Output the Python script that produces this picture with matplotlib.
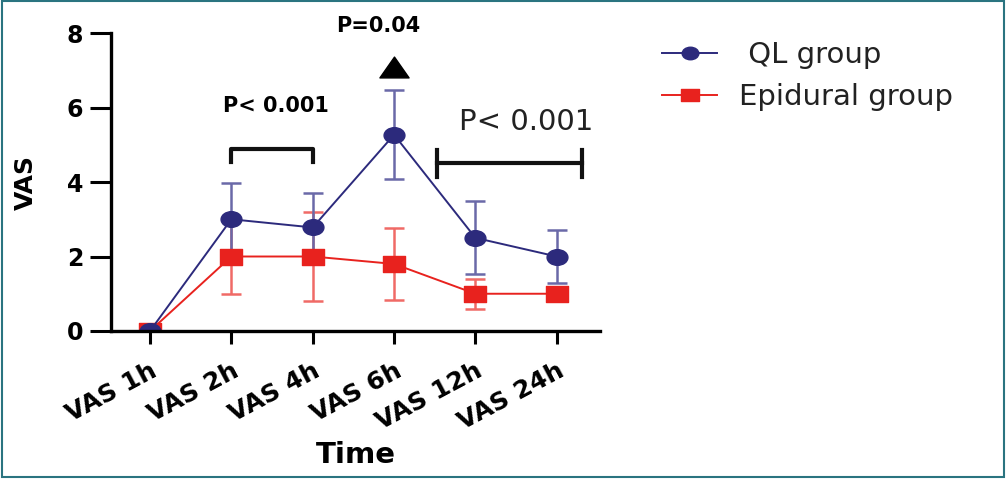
import matplotlib.pyplot as plt
from matplotlib.patches import Rectangle
from matplotlib.path import Path
from matplotlib.transforms import ScaledTranslation, Affine2D

plt.rcParams['font.family'] = ['DejaVu Sans']

times = ['VAS 1h', 'VAS 2h', 'VAS 4h', 'VAS 6h', 'VAS 12h', 'VAS 24h']
ql_mean = [0, 3.0, 2.78, 5.27, 2.5, 2.0]
ql_sd = [0, 0.98, 0.93, 1.2, 0.98, 0.7]
epi_mean = [0, 2.0, 2.0, 1.8, 1.0, 1.0]
epi_sd = [0, 1.0, 1.2, 0.97, 0.4, 0.05]

x = list(range(len(times)))

fig = plt.figure(figsize=(10.06, 4.79), dpi=100)
ax = fig.add_axes([0.1103, 0.309, 0.486, 0.622])

blue = '#2c2a7c'
red = '#e8221e'

# the source image is stretched sideways, so the markers are a bit wide
oval = Path.unit_circle().transformed(Affine2D().scale(1.33, 1.0))
wide_sq = Path([(-1.45, -1), (1.45, -1), (1.45, 1), (-1.45, 1), (-1.45, -1)], closed=True)
wide_tri = Path([(-1.4, -1), (1.4, -1), (0, 1), (-1.4, -1)], closed=True)

# error bars first, then the mean lines on top
ax.errorbar(x, epi_mean, yerr=epi_sd, fmt='none', ecolor='#f06a66', elinewidth=1.8,
            capsize=7.5, capthick=1.8, zorder=2)
ax.errorbar(x, ql_mean, yerr=ql_sd, fmt='none', ecolor='#6a69a8', elinewidth=1.8,
            capsize=7.5, capthick=1.8, zorder=3)
ax.plot(x, epi_mean, color=red, lw=1.4, marker=wide_sq, ms=16, label='Epidural group', zorder=4)
ax.plot(x, ql_mean, color=blue, lw=1.4, marker=oval, ms=15, label=' QL group', zorder=5)

ax.set_xlim(-0.48, 5.53)
ax.set_ylim(0, 8)
ax.set_yticks([0, 2, 4, 6, 8])
ax.set_xticks(x)
ax.set_xticklabels(times, rotation=28, ha='right', va='top', rotation_mode='anchor',
                   fontsize=18, fontweight='bold')
shift = ScaledTranslation(7 / 100, 0, fig.dpi_scale_trans)
for lab in ax.get_xticklabels():
    lab.set_transform(lab.get_transform() + shift)
for lab in ax.get_yticklabels():
    lab.set_fontsize(17)
    lab.set_fontweight('bold')
ax.tick_params(axis='y', width=2.2, length=15, pad=5)
ax.tick_params(axis='x', width=2.2, length=9, pad=11)
for s in ['top', 'right']:
    ax.spines[s].set_visible(False)
for s in ['left', 'bottom']:
    ax.spines[s].set_linewidth(2.4)
    ax.spines[s].set_zorder(6)

ax.set_xlabel('Time', fontsize=21, fontweight='bold')
ax.xaxis.set_label_coords(0.5, -0.37)
ax.set_ylabel('VAS', fontsize=18, fontweight='bold')
ax.yaxis.set_label_coords(-0.15, 0.5)

# bracket 2h-4h
ax.plot([1, 1, 2, 2], [4.55, 4.9, 4.9, 4.55], color='#111111', lw=3, clip_on=False)
ax.text(1.55, 6.03, 'P< 0.001', ha='center', va='center', fontsize=15, fontweight='bold')

# 6h triangle and P=0.04
ax.plot([3], [7.1], marker=wide_tri, ms=21, color='black', clip_on=False)
ax.text(2.8, 8.2, 'P=0.04', ha='center', va='center', fontsize=15, fontweight='bold')

# bar 12h-24h
ax.plot([3.53, 5.31], [4.5, 4.5], color='#111111', lw=3, clip_on=False)
ax.plot([3.53, 3.53], [4.14, 4.86], color='#111111', lw=3, clip_on=False)
ax.plot([5.31, 5.31], [4.14, 4.86], color='#111111', lw=3, clip_on=False)
ax.text(4.62, 5.6, 'P< 0.001', ha='center', va='center', fontsize=21, color='#222222')

handles, labels = ax.get_legend_handles_labels()
leg = fig.legend(handles[::-1], labels[::-1], loc='upper left', bbox_to_anchor=(0.658, 0.915),
                 frameon=False, fontsize=21, handlelength=1.9, handletextpad=0.75,
                 labelspacing=0.5, borderpad=0, borderaxespad=0, labelcolor='#222222',
                 markerscale=0.8)

fig.patches.append(Rectangle((0.002, 0.004), 0.996, 0.993, transform=fig.transFigure,
                             fill=False, edgecolor='#2a7480', lw=1.5))

fig.savefig('out.png', dpi=100)
